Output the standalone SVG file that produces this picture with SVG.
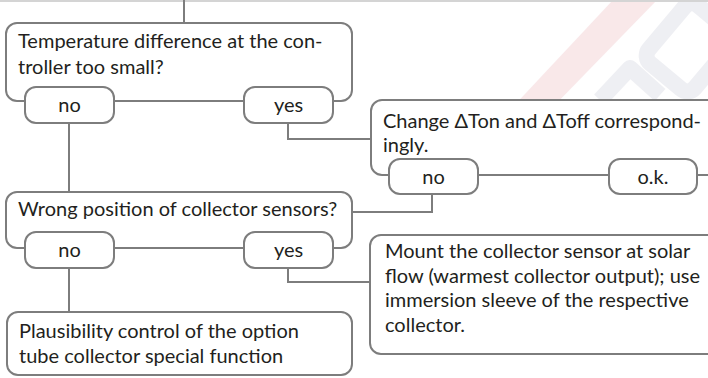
<svg xmlns="http://www.w3.org/2000/svg" width="708" height="378" viewBox="0 0 708 378">
<style>
  .box{fill:#fff;stroke:#7d7d7d;stroke-width:2}
  .pill{fill:#fff;stroke:#7d7d7d;stroke-width:2}
  .conn{fill:none;stroke:#7d7d7d;stroke-width:2}
  text{font-family:Lato,"Open Sans","DejaVu Sans",sans-serif;font-size:20px;fill:#231f20}
  .c{text-anchor:middle}
  .wm{fill:none;stroke:#e4e5ec;stroke-width:16;stroke-linejoin:round}
</style>
<rect x="0" y="0" width="708" height="378" fill="#fff"/>
<g id="watermark" opacity="0.6">
  <polygon points="613,0 657,0 550,110 510,110" fill="#f6d9dc"/>
  <rect x="660" y="10" width="60" height="75" rx="10" class="wm" transform="rotate(40 690 47)"/>
  <path d="M600,100 L630,68 L660,95" class="wm"/>
</g>
<line x1="0" y1="1" x2="708" y2="1" stroke="#d4d4d4" stroke-width="2"/>
<g id="connectors">
  <line class="conn" x1="184" y1="0" x2="184" y2="23"/>
  <polyline class="conn" points="69,123 69,192"/>
  <polyline class="conn" points="288,123 288,139 371,139"/>
  <polyline class="conn" points="352,212 432,212 432,194"/>
  <polyline class="conn" points="69,268 69,312"/>
  <polyline class="conn" points="288,268 288,282 370,282"/>
</g>
<g id="n1">
  <rect class="box" x="6" y="23" width="346" height="78" rx="11"/>
  <text x="18" y="48">Temperature difference at the con-</text>
  <text x="18" y="74">troller too small?</text>
  <g id="n1-no"><rect class="pill" x="25" y="87" width="89" height="36" rx="11"/><text class="c" x="69.5" y="112">no</text></g>
  <g id="n1-yes"><rect class="pill" x="244" y="87" width="89" height="36" rx="11"/><text class="c" x="288.5" y="112">yes</text></g>
</g>
<g id="n2">
  <rect class="box" x="371" y="100" width="360" height="75" rx="11"/>
  <text x="383" y="128">Change ΔTon and ΔToff correspond-</text>
  <text x="383" y="152">ingly.</text>
  <g id="n2-no"><rect class="pill" x="389" y="159" width="89" height="35" rx="11"/><text class="c" x="433.5" y="184">no</text></g>
  <g id="n2-ok"><rect class="pill" x="609" y="159" width="88" height="35" rx="11"/><text class="c" x="653" y="184">o.k.</text></g>
</g>
<g id="n3">
  <rect class="box" x="6" y="192" width="346" height="56" rx="11"/>
  <text x="18" y="216">Wrong position of collector sensors?</text>
  <g id="n3-no"><rect class="pill" x="25" y="232" width="89" height="36" rx="11"/><text class="c" x="69.5" y="257">no</text></g>
  <g id="n3-yes"><rect class="pill" x="244" y="232" width="89" height="36" rx="11"/><text class="c" x="288.5" y="257">yes</text></g>
</g>
<g id="n4">
  <rect class="box" x="370" y="235" width="360" height="119" rx="11"/>
  <text x="385" y="258">Mount the collector sensor at solar</text>
  <text x="385" y="283">flow (warmest collector output); use</text>
  <text x="385" y="307">immersion sleeve of the respective</text>
  <text x="385" y="332">collector.</text>
</g>
<g id="n5">
  <rect class="box" x="7" y="312" width="345" height="63" rx="11"/>
  <text x="19" y="338">Plausibility control of the option</text>
  <text x="19" y="363">tube collector special function</text>
</g>
</svg>
